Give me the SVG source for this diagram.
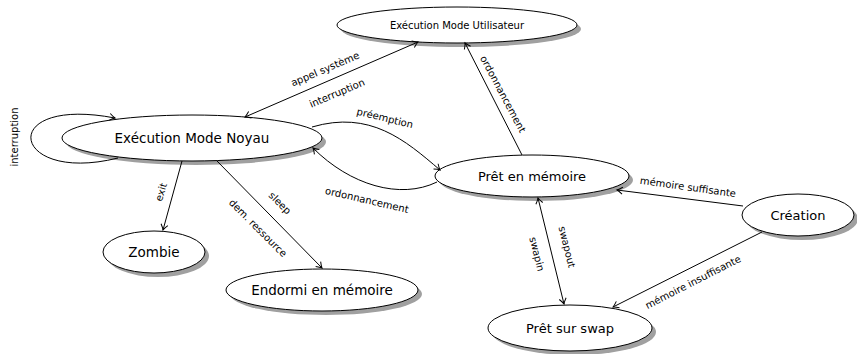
<svg xmlns="http://www.w3.org/2000/svg" width="857" height="354" viewBox="0 0 857 354">
<style>
.n{fill:#fff;stroke:#000;stroke-width:1}
.s{fill:#a0a0a0;stroke:none}
.t{font-family:"DejaVu Sans",sans-serif;text-anchor:middle;dominant-baseline:central;fill:#000}
.l{font-family:"DejaVu Sans",sans-serif;font-size:10px;text-anchor:middle;dominant-baseline:central;fill:#000}
.e{fill:none;stroke:#000;stroke-width:1}
</style>
<defs>
<marker id="a" viewBox="-7 -5 9 10" refX="0" refY="0" markerWidth="9" markerHeight="10" orient="auto-start-reverse" markerUnits="userSpaceOnUse">
<path d="M-5.5,-3.5 Q-2,-0.8 0,0 Q-2,0.8 -5.5,3.5" fill="none" stroke="#000" stroke-width="1"/>
</marker>
</defs>
<rect width="857" height="354" fill="#fff"/>
<g id="user">
<ellipse class="s" cx="461" cy="29" rx="120" ry="18"/>
<ellipse class="n" cx="457" cy="25" rx="120" ry="18"/>
<text class="t" x="457" y="25" font-size="10">Exécution Mode Utilisateur</text>
</g>
<g id="noyau">
<ellipse class="s" cx="196" cy="142" rx="130" ry="23"/>
<ellipse class="n" cx="192" cy="138" rx="130" ry="23"/>
<text class="t" x="192" y="138" font-size="13.5">Exécution Mode Noyau</text>
</g>
<g id="pret">
<ellipse class="s" cx="536" cy="180" rx="97" ry="21"/>
<ellipse class="n" cx="532" cy="176" rx="97" ry="21"/>
<text class="t" x="532" y="176" font-size="13">Prêt en mémoire</text>
</g>
<g id="creation">
<ellipse class="s" cx="802" cy="219" rx="56" ry="21"/>
<ellipse class="n" cx="798" cy="215" rx="56" ry="21"/>
<text class="t" x="798" y="215" font-size="13">Création</text>
</g>
<g id="swap">
<ellipse class="s" cx="574" cy="332" rx="82" ry="23"/>
<ellipse class="n" cx="570" cy="328" rx="82" ry="23"/>
<text class="t" x="570" y="328" font-size="13">Prêt sur swap</text>
</g>
<g id="zombie">
<ellipse class="s" cx="158" cy="256" rx="51" ry="21"/>
<ellipse class="n" cx="154" cy="252" rx="51" ry="21"/>
<text class="t" x="154" y="252" font-size="13.5">Zombie</text>
</g>
<g id="endormi">
<ellipse class="s" cx="326" cy="294" rx="96" ry="21"/>
<ellipse class="n" cx="322" cy="290" rx="96" ry="21"/>
<text class="t" x="322" y="290" font-size="13.5">Endormi en mémoire</text>
</g>
<g id="edges">
<path class="e" d="M245,117 L418,42" marker-start="url(#a)" marker-end="url(#a)"/>
<path class="e" d="M118,158 C10,185 -5,95 115,118" marker-end="url(#a)"/>
<path class="e" d="M312,127 C370,110 405,140 440,170" marker-end="url(#a)"/>
<path class="e" d="M437,182 C400,200 350,185 313,148" marker-end="url(#a)"/>
<path class="e" d="M522,155 L465,43" marker-end="url(#a)"/>
<path class="e" d="M182,161 L163,230" marker-end="url(#a)"/>
<path class="e" d="M217,161 L322,268" marker-end="url(#a)"/>
<path class="e" d="M743,206 L617,190" marker-end="url(#a)"/>
<path class="e" d="M762,232 L613,307" marker-end="url(#a)"/>
<path class="e" d="M538,198 L564,304" marker-start="url(#a)" marker-end="url(#a)"/>
<text class="l" transform="translate(325,69) rotate(-23)">appel système</text>
<text class="l" transform="translate(337,93) rotate(-23)">interruption</text>
<text class="l" transform="translate(14,137) rotate(-90)">interruption</text>
<text class="l" transform="translate(385,118) rotate(14)">préemption</text>
<text class="l" transform="translate(367,200) rotate(13)">ordonnancement</text>
<text class="l" transform="translate(503,94) rotate(62)">ordonnancement</text>
<text class="l" transform="translate(161,192) rotate(-73)">exit</text>
<text class="l" transform="translate(280,203) rotate(45)">sleep</text>
<text class="l" transform="translate(258,228) rotate(45)">dem. ressource</text>
<text class="l" transform="translate(688,187) rotate(8)">mémoire suffisante</text>
<text class="l" transform="translate(693,282) rotate(-27)">mémoire insuffisante</text>
<text class="l" transform="translate(537,254) rotate(76)">swapin</text>
<text class="l" transform="translate(567,247) rotate(76)">swapout</text>
</g>
</svg>
